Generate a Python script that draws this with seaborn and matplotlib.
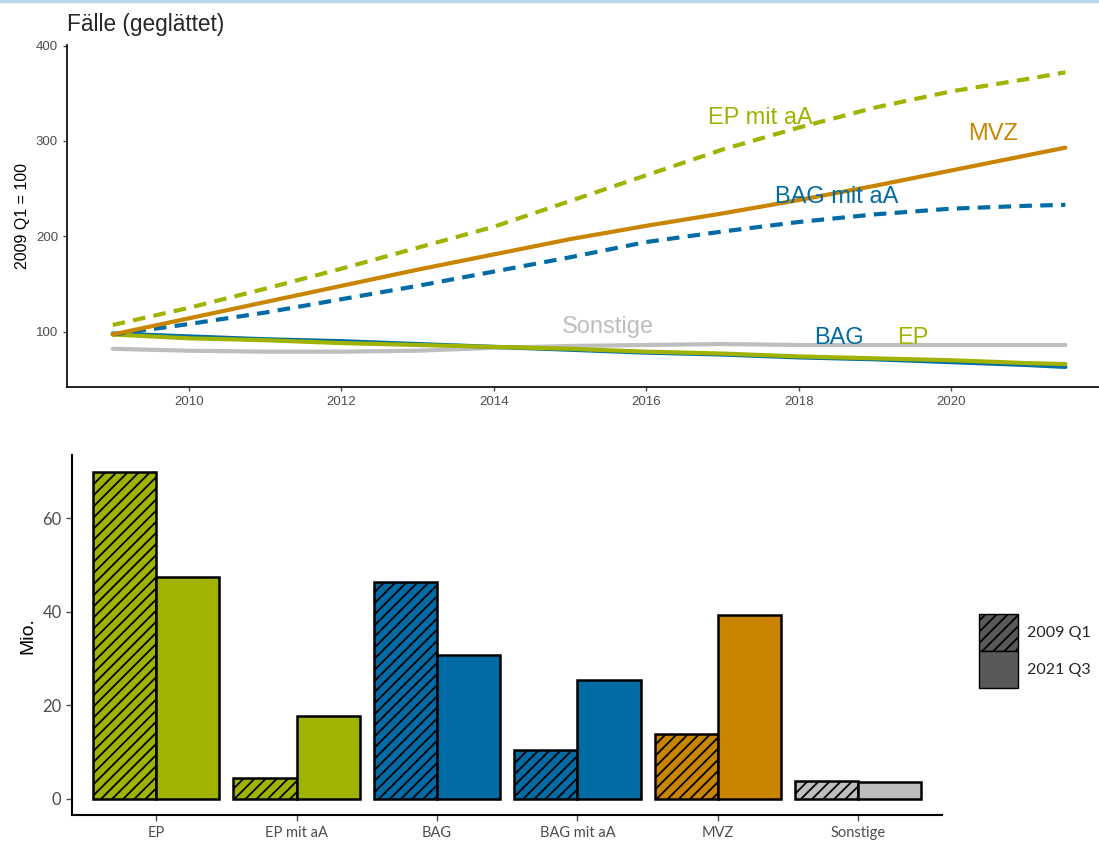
import numpy as np
import pandas as pd
import matplotlib
matplotlib.use("Agg")
import matplotlib.pyplot as plt
import seaborn as sns
from matplotlib.patches import Patch
from matplotlib.lines import Line2D

# smoothed case counts, index 2009 Q1 = 100
years = [2009, 2010, 2011, 2012, 2013, 2014, 2015, 2016, 2017, 2018, 2019, 2020, 2021, 2021.5]
ep = [97, 93, 91, 88, 86, 84, 82, 79, 77, 74, 72, 70, 67, 66]
ep_mit_aa = [107, 125, 145, 166, 188, 210, 237, 264, 291, 314, 335, 352, 365, 372]
bag = [98, 95, 92, 90, 87, 84, 81, 78, 76, 73, 71, 68, 65, 63]
bag_mit_aa = [97, 108, 120, 134, 148, 163, 178, 194, 205, 215, 223, 229, 232, 233]
mvz = [97, 114, 131, 148, 165, 181, 197, 211, 224, 238, 253, 269, 285, 293]
sonstige = [82, 80, 79, 79, 80, 83, 85, 86, 87, 86, 86, 86, 86, 86]

# bar chart values (Mio.)
categories = ["EP", "EP mit aA", "BAG", "BAG mit aA", "MVZ", "Sonstige"]
periods = ["2009 Q1", "2021 Q3"]
vals_2009 = [70.0, 4.5, 46.4, 10.4, 13.8, 3.8]
vals_2021 = [47.5, 17.7, 30.7, 25.4, 39.4, 3.6]

green = "#9FB300"
blue = "#006BA4"
orange = "#C98500"
grey = "#BEBEBE"
cat_colors = [green, green, blue, blue, orange, grey]

sns.set_style("white")
plt.rcParams["font.family"] = ["Liberation Sans", "DejaVu Sans"]
plt.rcParams["hatch.linewidth"] = 1.3

fig = plt.figure(figsize=(10.99, 8.43), dpi=100)
fig.add_artist(Line2D([0, 1], [0.999, 0.999], color="#B9D9EE", lw=2.5,
                      transform=fig.transFigure))

# ---- top: smoothed lines ----
ax1 = fig.add_axes([0.061, 0.541, 0.95, 0.406])
series = [
    ("EP", ep, green, "-"),
    ("EP mit aA", ep_mit_aa, green, (0, (3, 2))),
    ("BAG", bag, blue, "-"),
    ("BAG mit aA", bag_mit_aa, blue, (0, (3, 2))),
    ("MVZ", mvz, orange, "-"),
    ("Sonstige", sonstige, grey, "-"),
]
# draw order: grey first, blue under green
for name in ["Sonstige", "BAG", "EP", "BAG mit aA", "EP mit aA", "MVZ"]:
    for s in series:
        if s[0] == name:
            df = pd.DataFrame({"jahr": years, "wert": s[1]})
            sns.lineplot(data=df, x="jahr", y="wert", ax=ax1, color=s[2],
                         linestyle=s[3], linewidth=3.0, legend=False)

labels = [("EP mit aA", 2017.5, 324, green), ("MVZ", 2020.55, 307, orange),
          ("BAG mit aA", 2018.5, 241, blue), ("Sonstige", 2015.5, 105, grey),
          ("BAG", 2018.53, 93, blue), ("EP", 2019.5, 93, green)]
for txt, x, y, c in labels:
    ax1.text(x, y, txt, color=c, fontsize=17, ha="center", va="center")

ax1.set_xlim(2008.4, 2022.1)
ax1.set_ylim(42, 401)
ax1.set_xticks([2010, 2012, 2014, 2016, 2018, 2020])
ax1.set_yticks([100, 200, 300, 400])
ax1.set_xlabel("")
ax1.set_ylabel("2009 Q1 = 100", fontsize=11.5, color="black")
ax1.tick_params(axis="both", labelsize=9.5, colors="#4D4D4D", length=3,
                width=1, direction="out", left=True, bottom=True)
for sp in ["top", "right"]:
    ax1.spines[sp].set_visible(False)
for sp in ["left", "bottom"]:
    ax1.spines[sp].set_color("black")
    ax1.spines[sp].set_linewidth(1.2)
ax1.set_title("Fälle (geglättet)", loc="left", fontsize=16.3, x=0.0, pad=10)

# ---- bottom: bars ----
ax2 = fig.add_axes([0.0655, 0.033, 0.792, 0.427])
bars = pd.DataFrame({
    "kat": categories * 2,
    "zeit": [periods[0]] * 6 + [periods[1]] * 6,
    "mio": vals_2009 + vals_2021,
})
sns.barplot(data=bars, x="kat", y="mio", hue="zeit", order=categories,
            hue_order=periods, ax=ax2, width=0.9, gap=0, legend=False,
            edgecolor="black", linewidth=1.8, saturation=1)
for j, cont in enumerate(ax2.containers):
    for i, p in enumerate(cont.patches):
        p.set_facecolor(cat_colors[i])
        p.set_edgecolor("black")
        if j == 0:
            p.set_hatch("///")

ax2.set_xlim(-0.6, 5.6)
ax2.set_ylim(-3.5, 73.5)
ax2.set_yticks([0, 20, 40, 60])
ax2.set_xlabel("")
ax2.set_ylabel("Mio.", fontsize=14, color="black")
ax2.tick_params(axis="both", colors="#4D4D4D", length=4, width=1,
                direction="out", left=True, bottom=True)
for lab in ax2.get_xticklabels() + ax2.get_yticklabels():
    lab.set_family(["Lato", "DejaVu Sans"])
for lab in ax2.get_xticklabels():
    lab.set_fontsize(10.5)
for lab in ax2.get_yticklabels():
    lab.set_fontsize(12)
for sp in ["top", "right"]:
    ax2.spines[sp].set_visible(False)
for sp in ["left", "bottom"]:
    ax2.spines[sp].set_color("black")
    ax2.spines[sp].set_linewidth(1.5)

handles = [Patch(facecolor="#595959", edgecolor="black", hatch="///", linewidth=1),
           Patch(facecolor="#595959", edgecolor="black", linewidth=1)]
fig.legend(handles, periods, loc="center left", bbox_to_anchor=(0.878, 0.228),
           frameon=False, handlelength=2.4, handleheight=3.2, labelspacing=0,
           handletextpad=0.6, prop={"family": ["Lato", "DejaVu Sans"], "size": 11.5})

fig.savefig("out.png", dpi=100)
